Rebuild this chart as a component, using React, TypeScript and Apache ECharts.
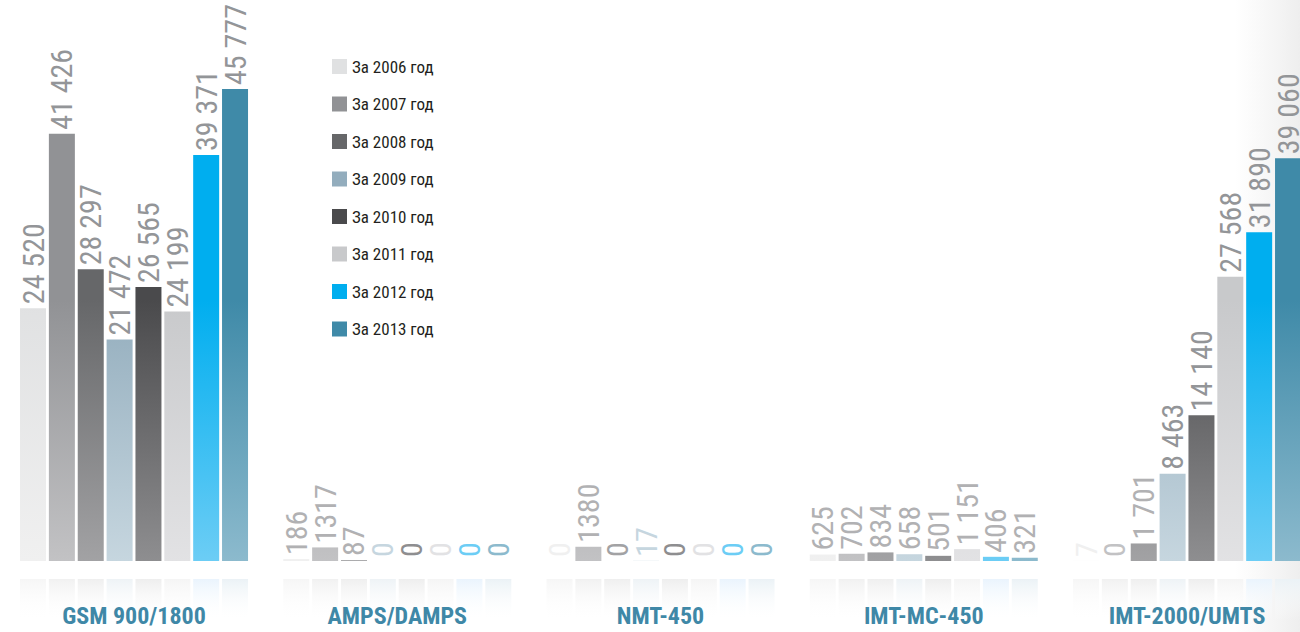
import React, { useEffect, useRef } from "react";
import * as echarts from "echarts";

const categories = ["GSM 900/1800", "AMPS/DAMPS", "NMT-450", "IMT-MC-450", "IMT-2000/UMTS"];
const years = ["За 2006 год", "За 2007 год", "За 2008 год", "За 2009 год", "За 2010 год", "За 2011 год", "За 2012 год", "За 2013 год"];

const v2006 = [24520, 186, 0, 625, 7];
const v2007 = [41426, 1317, 1380, 702, 0];
const v2008 = [28297, 87, 0, 834, 1701];
const v2009 = [21472, 0, 17, 658, 8463];
const v2010 = [26565, 0, 0, 501, 14140];
const v2011 = [24199, 0, 0, 1151, 27568];
const v2012 = [39371, 0, 0, 406, 31890];
const v2013 = [45777, 0, 0, 321, 39060];
const seriesValues = [v2006, v2007, v2008, v2009, v2010, v2011, v2012, v2013];

// label texts printed without thousands separator in the original
const labelOverrides: Record<string, string> = { "1-1": "1317", "1-2": "1380" };

const reflection = [1, 1, 1, 1, 1];

const baseColors = ["#e0e1e2", "#919295", "#666769", "#93adbd", "#4a4a4c", "#c8c9cb", "#00aeef", "#3f8aa8"];
const lightColors = ["#f0f0f0", "#c2c2c4", "#a2a2a4", "#c6d6df", "#8e8e90", "#e2e2e4", "#6ccdf5", "#8cbacd"];
const reflColors = ["#f6f6f6", "#f1f1f1", "#efefef", "#eef3f6", "#eeeeee", "#f5f5f5", "#eaf4fd", "#ebf2f6"];

const FONT = "'Roboto Condensed', 'DejaVu Sans Condensed', sans-serif";

function fmt(v: number): string {
  return String(v).replace(/\B(?=(\d{3})+(?!\d))/g, " ");
}

export default function App() {
  const ref = useRef<HTMLDivElement>(null);

  useEffect(() => {
    if (!ref.current) return;
    const chart = echarts.init(ref.current, null, { renderer: "svg" });

    const gridLeft = 2.4;
    const gridWidth = 1316.25;

    const mainSeries = seriesValues.map((vals, s) => ({
      name: years[s],
      type: "bar",
      xAxisIndex: 0,
      yAxisIndex: 0,
      barWidth: 26,
      barGap: "11%",
      itemStyle: {
        color: {
          type: "linear",
          x: 0,
          y: 300,
          x2: 0,
          y2: 561,
          global: true,
          colorStops: [
            { offset: 0, color: baseColors[s] },
            { offset: 1, color: lightColors[s] },
          ],
        },
      },
      label: {
        show: true,
        position: "top",
        rotate: 90,
        align: "left",
        verticalAlign: "middle",
        distance: 4,
        fontSize: 30,
        fontFamily: FONT,
        formatter: (p: any) => labelOverrides[`${s}-${p.dataIndex}`] ?? fmt(p.value),
      },
      data: vals.map((v) => ({
        value: v,
        label: { color: v < 50 ? lightColors[s] : v < 2000 ? "#b1b1b3" : "#939598" },
      })),
      z: 3,
    }));

    const reflSeries = reflColors.map((c, s) => ({
      name: "refl" + s,
      type: "bar",
      xAxisIndex: 1,
      yAxisIndex: 1,
      barWidth: 26,
      barGap: "11%",
      silent: true,
      itemStyle: {
        color: {
          type: "linear",
          x: 0,
          y: 0,
          x2: 0,
          y2: 1,
          colorStops: [
            { offset: 0, color: c },
            { offset: 1, color: "rgba(255,255,255,0)" },
          ],
        },
      },
      data: reflection,
      z: 1,
    }));

    chart.setOption({
      animation: false,
      backgroundColor: "#ffffff",
      textStyle: { fontFamily: FONT },
      graphic: [
        {
          type: "rect",
          silent: true,
          z: 0,
          shape: { x: 1235, y: 0, width: 65, height: 632 },
          style: {
            fill: {
              type: "linear",
              x: 0,
              y: 0,
              x2: 1,
              y2: 0,
              colorStops: [
                { offset: 0, color: "rgba(240,240,240,0)" },
                { offset: 1, color: "rgba(238,238,238,1)" },
              ],
            },
          },
        },
      ],
      legend: {
        orient: "vertical",
        left: 332,
        top: 58,
        padding: 0,
        itemWidth: 15,
        itemHeight: 15,
        itemGap: 20.5,
        itemStyle: { borderWidth: 0 },
        icon: "rect",
        selectedMode: false,
        textStyle: { fontSize: 17, color: "#231f20", fontFamily: FONT, padding: [0, 0, 0, 0] },
        data: years.map((y, i) => ({ name: y, itemStyle: { color: baseColors[i] } })),
      },
      grid: [
        { left: gridLeft, width: gridWidth, top: 45.4, bottom: 71, containLabel: false, outerBoundsMode: "none" },
        { left: gridLeft, width: gridWidth, top: 579, height: 42, containLabel: false, outerBoundsMode: "none" },
      ],
      xAxis: [
        {
          type: "category",
          gridIndex: 0,
          data: categories,
          axisLine: { show: false },
          axisTick: { show: false },
          axisLabel: {
            color: "#3f88a7",
            fontSize: 24,
            fontWeight: "bold",
            fontFamily: FONT,
            margin: 43,
          },
          z: 10,
        },
        {
          type: "category",
          gridIndex: 1,
          data: categories,
          show: false,
        },
      ],
      yAxis: [
        {
          type: "value",
          gridIndex: 0,
          min: 0,
          max: 50000,
          show: false,
          splitLine: { show: false },
        },
        {
          type: "value",
          gridIndex: 1,
          min: 0,
          max: 1,
          show: false,
          splitLine: { show: false },
        },
      ],
      series: [...reflSeries, ...mainSeries],
    });

    return () => chart.dispose();
  }, []);

  return (
    <div
      ref={ref}
      style={{ position: "absolute", left: 0, top: 0, width: 1300, height: 632, overflow: "hidden" }}
    />
  );
}
